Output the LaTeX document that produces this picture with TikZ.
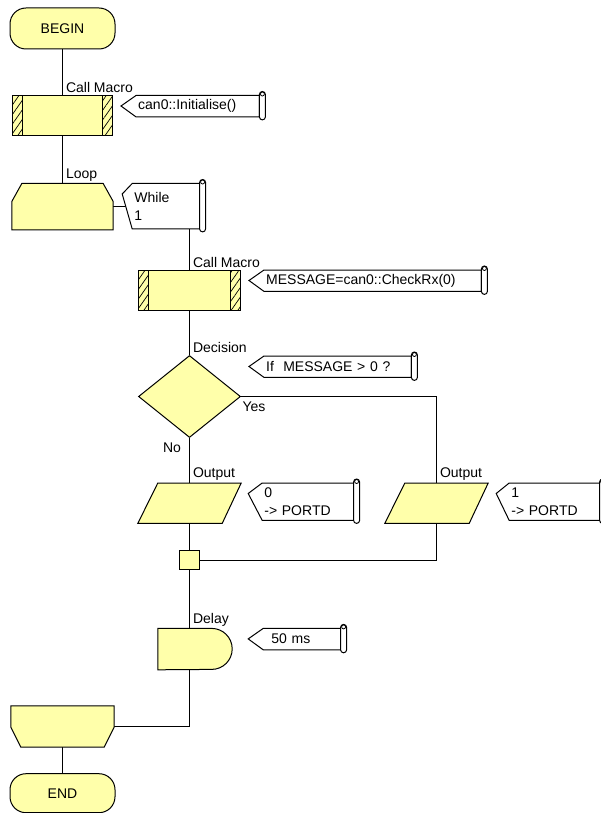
\documentclass[tikz,border=0pt]{standalone}
\usepackage{fontspec}
\setmainfont{Liberation Sans}
\usetikzlibrary{arrows.meta, positioning, shapes.geometric, calc, patterns.meta, backgrounds}
\definecolor{flowyellow}{HTML}{FFFFAA}
\newcommand{\flowfont}{\fontsize{14}{18}\selectfont}

\begin{document}
\begin{tikzpicture}[
    x=1pt, y=1pt,
    every node/.style={font=\flowfont},
    flowline/.style={line width=1pt, black},
    shapeline/.style={draw, line width=1pt, fill=flowyellow},
    terminal/.style={rectangle, rounded corners=16pt, draw, line width=1pt, fill=flowyellow,
                     minimum width=105pt, minimum height=41pt, inner sep=0pt},
    macrobox/.style={rectangle, draw, line width=1pt, fill=flowyellow,
                     minimum width=100pt, minimum height=40pt, inner sep=0pt,
                     path picture={
                       \draw[line width=1pt, pattern={Lines[angle=55, distance=5.5pt, line width=0.7pt]}]
                         (path picture bounding box.south west) rectangle ([xshift=10pt]path picture bounding box.north west);
                       \draw[line width=1pt, pattern={Lines[angle=55, distance=5.5pt, line width=0.7pt]}]
                         (path picture bounding box.south east) rectangle ([xshift=-10pt]path picture bounding box.north east);
                     }},
    loopbox/.style={rectangle, minimum width=101pt, minimum height=46pt, inner sep=0pt},
    decision/.style={diamond, draw, line width=1pt, fill=flowyellow,
                     minimum width=102pt, minimum height=82pt, inner sep=0pt},
    outbox/.style={rectangle, minimum width=103pt, minimum height=40pt, inner sep=0pt},
    junction/.style={rectangle, draw, line width=1pt, fill=flowyellow,
                     minimum width=20pt, minimum height=19pt, inner sep=0pt},
    delaybox/.style={rectangle, minimum width=74pt, minimum height=41pt, inner sep=0pt},
    tag/.style={anchor=south west, inner xsep=3pt, inner ysep=2pt},
    comment/.style={rectangle, anchor=north west, inner xsep=2pt, inner ysep=2pt,
                    align=left, minimum height=21pt},
    commentline/.style={draw, line width=1pt, fill=white},
    scroll/.style={draw, line width=1pt, fill=white, rounded corners=3pt}
]
\useasboundingbox (0,0) rectangle (600,-813);

% --- Flow nodes ---
\node[terminal] (begin) at (62.5,-28.5) {BEGIN};
\node[macrobox, below=46pt of begin] (initmacro) {};
\node[loopbox, below=47pt of initmacro] (loop) {};
\node[macrobox, minimum width=102pt] (checkrx) at (189.5,-290.5) {};
\node[decision, below=44pt of checkrx] (decide) {};
\node[outbox, below=45pt of decide] (out0) {};
\node[outbox] (out1) at ($(out0)+(247,0)$) {};
\node[junction, below=27pt of out0] (join) {};
\node[delaybox, below=58pt of join, xshift=5.5pt] (delay) {};
\node[loopbox, minimum width=103pt, minimum height=41pt] (loopend) at (62.5,-726.5) {};
\node[terminal, below=26pt of loopend, minimum height=39pt] (end) {END};

% --- Loop, output and delay outlines ---
\draw[shapeline] ([xshift=10pt]loop.north west) -- ([xshift=-10pt]loop.north east)
  -- ([yshift=-18pt]loop.north east) -- (loop.south east) -- (loop.south west)
  -- ([yshift=-18pt]loop.north west) -- cycle;
\draw[shapeline] (loopend.north west) -- (loopend.north east) -- ([yshift=20pt]loopend.south east)
  -- ([xshift=-10pt]loopend.south east) -- ([xshift=10pt]loopend.south west)
  -- ([yshift=20pt]loopend.south west) -- cycle;
\foreach \o in {out0, out1}
  \draw[shapeline] ([xshift=20pt]\o.north west) -- (\o.north east)
    -- ([xshift=-19pt]\o.south east) -- (\o.south west) -- cycle;
\draw[shapeline] (delay.north west) -- ([xshift=-20.5pt]delay.north east)
  arc[start angle=90, end angle=-90, radius=20.5pt] -- (delay.south west) -- cycle;

% --- Comments ---
\node[comment, text width=119pt, right=23pt of initmacro.north east, anchor=north west] (cinit) {can0::Initialise()};
\node[comment, text width=63pt, minimum height=45pt, right=19pt of loop.north east, anchor=north west] (cwhile) {While\\1};
\node[comment, text width=213pt, right=23pt of checkrx.north east, anchor=north west] (ccheck) {MESSAGE=can0::CheckRx(0)};
\node[comment, text width=143pt] (cif) at ($(decide.east |- decide.north)+(23,-1)$) {If\ \ MESSAGE > 0 ?};
\node[comment, text width=87pt, minimum height=37pt, right=21pt of out0.north east, anchor=north west] (cout0) {0\\-> PORTD};
\node[comment, text width=86pt, minimum height=37pt, right=21pt of out1.north east, anchor=north west] (cout1) {1\\-> PORTD};
\node[comment, text width=61pt, inner xsep=8pt, right=31pt of delay.north east, anchor=north west] (cdelay) {50 ms};

\begin{scope}[on background layer]
% --- Connectors ---
\draw[flowline] (begin) -- node[tag, at end]{Call Macro} (initmacro);
\draw[flowline] (initmacro) -- node[tag, at end]{Loop} (loop);
\draw[flowline] (loop.east) -| node[tag, at end]{Call Macro} (checkrx.north);
\draw[flowline] (checkrx) -- node[tag, at end]{Decision} (decide);
\draw[flowline] (decide.south) -- node[at start, anchor=north east, inner xsep=8pt, inner ysep=4pt]{No}
  node[tag, at end]{Output} (out0.north);
\draw[flowline] (decide.east) -| node[at start, anchor=north west, inner xsep=1pt, inner ysep=5pt]{Yes}
  node[tag, at end]{Output} (out1.north);
\draw[flowline] (out0) -- (join);
\draw[flowline] (out1.south) |- (join.east);
\draw[flowline] (join) -- node[tag, at end]{Delay} (join |- delay.north);
\draw[flowline] (join |- delay.south) |- (loopend.east);
\draw[flowline] (loopend) -- (end);

% --- Comment outlines ---
\foreach \c/\d in {cinit/15, cwhile/10, ccheck/15, cif/15, cout0/14, cout1/13, cdelay/15}{
  \draw[commentline] (\c.north west) -- ([xshift=-\d pt, yshift=-10.5pt]\c.north west)
    -- (\c.south west) -- (\c.south east) -- (\c.north east) -- cycle;
  \draw[scroll] ([yshift=4pt]\c.north east) rectangle ([xshift=6pt, yshift=-3pt]\c.south east);
  \draw[line width=0.8pt] ([xshift=3pt, yshift=1.5pt]\c.north east) circle (2pt);
}
\end{scope}

\end{tikzpicture}
\end{document}
